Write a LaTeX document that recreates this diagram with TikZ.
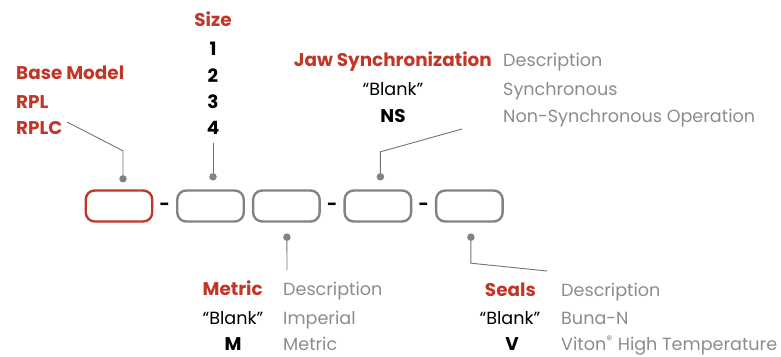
\documentclass[tikz,border=0pt]{standalone}
\usepackage{fontspec}
\setmainfont{Poppins}
\usetikzlibrary{positioning, calc}
\definecolor{codered}{RGB}{194,54,40}
\definecolor{boxgray}{RGB}{128,131,136}
\definecolor{textgray}{RGB}{138,140,144}
\definecolor{leadgray}{RGB}{112,115,120}
\newcommand{\widegap}{22.6pt}
\newcommand{\narrowgap}{7pt}
\newcommand{\labelfont}{\fontsize{17.6}{20}\selectfont}
\newcommand{\titlefont}{\fontsize{18.4}{21}\selectfont\bfseries}

\begin{document}
\begin{tikzpicture}[x=1pt, y=-1pt,
    slot/.style={draw=boxgray, line width=2.4pt, rounded corners=9pt,
      minimum width=66.5pt, minimum height=31pt},
    firstslot/.style={slot, draw=codered},
    title/.style={font=\titlefont, text=codered, inner sep=0pt},
    code/.style={font=\labelfont, inner sep=0pt, anchor=base},
    boldcode/.style={font=\titlefont, inner sep=0pt, anchor=base},
    descr/.style={font=\labelfont, text=textgray, inner sep=0pt, anchor=base west},
    hyphen/.style={font=\labelfont\bfseries, inner sep=0pt},
    pin/.style={circle, fill=boxgray, inner sep=0pt, minimum size=7.5pt},
    lead/.style={draw=leadgray, line width=0.9pt}]
            \useasboundingbox (0,0) rectangle (781,356);
            \node[firstslot] (base) at (119,206) {};
            \node[slot, right=\widegap of base] (size) {};
            \node[slot, right=\narrowgap of size] (metric) {};
            \node[slot, right=\widegap of metric] (jaw) {};
            \node[slot, right=\widegap of jaw] (seals) {};
            \node[hyphen] (dashone) at ($(base.east)!0.5!(size.west)+(0,1)$) {-};
            \node[hyphen] (dashtwo) at ($(metric.east)!0.5!(jaw.west)+(0,1)$) {-};
            \node[hyphen] (dashthree) at ($(jaw.east)!0.5!(seals.west)+(0,1)$) {-};

            \node[title, anchor=base west] (basetitle) at (16,79) {Base Model};
            \node[title, anchor=base west] (rpl) at (16,108) {RPL};
            \node[title, anchor=base west] (rplc) at (16,134) {RPLC};

            \node[title, anchor=base] (sizetitle) at (213,26) {Size};
            \foreach \n/\y in {1/55, 2/82, 3/108, 4/134}
              \node[boldcode] (size\n) at (213,\y) {\n};

            \node[title, anchor=base east] (jawtitle) at (492,66) {Jaw Synchronization};
            \node[descr] (jawdescr) at (503,66) {Description};
            \node[code] (jawblank) at (393,95) {“Blank”};
            \node[descr] (jawsync) at (503,95) {Synchronous};
            \node[boldcode] (jawns) at (393,122) {NS};
            \node[descr] (jawnonsync) at (503,122) {Non-Synchronous Operation};

            \node[title, anchor=base east] (metrictitle) at (263,295) {Metric};
            \node[descr] (metricdescr) at (283,295) {Description};
            \node[code] (metricblank) at (233,324.5) {“Blank”};
            \node[descr] (metricimp) at (283,324.5) {Imperial};
            \node[boldcode] (metricm) at (233,350.5) {M};
            \node[descr] (metricmet) at (283,350.5) {Metric};

            \node[title, anchor=base east] (sealstitle) at (536,296) {Seals};
            \node[descr] (sealsdescr) at (561,296) {Description};
            \node[code] (sealsblank) at (510,324.5) {“Blank”};
            \node[descr] (sealsbuna) at (561,324.5) {Buna-N};
            \node[boldcode] (sealsv) at (512,350.5) {V};
            \node[descr] (sealsviton) at (561,350.5) {Viton\textsuperscript{®} High Temperature};

            \node[pin] (basepin) at ($(base.north)+(4,-10.5)$) {};
            \node[pin] (sizepin) at ($(size.north)+(2.5,-12.5)$) {};
            \node[pin] (jawpin) at ($(jaw.north)+(2.5,-12.5)$) {};
            \node[pin] (metricpin) at ($(metric.south)+(0.5,14.5)$) {};
            \node[pin] (sealspin) at ($(seals.south)+(1.5,14.5)$) {};

            \coordinate (basetip) at (67,122);
            \coordinate (sizetip) at (213,143);
            \coordinate (jawtip) at (462,129);
            \coordinate (metrictip) at (287,270);
            \coordinate (sealstip) at (547,271);

            \draw[lead] (basepin) -- ++(0,-28) -- (basetip);
            \draw[lead] (sizepin) -- (sizetip);
            \draw[lead] (jawpin) -- ++(0,-25) -- (jawtip);
            \draw[lead] (metricpin) -- (metrictip);
            \draw[lead] (sealspin) -- ++(0,26) -- (sealstip);
        \end{tikzpicture}
\end{document}
